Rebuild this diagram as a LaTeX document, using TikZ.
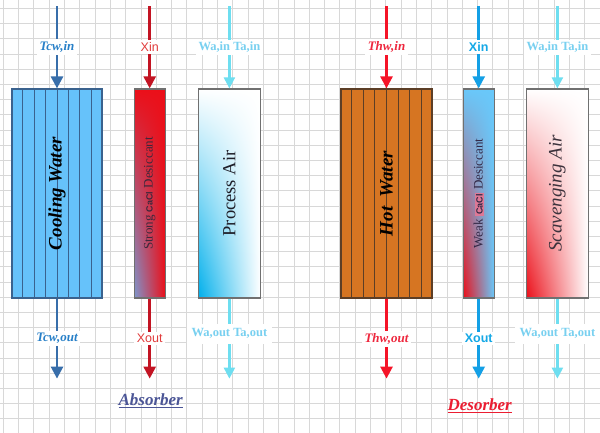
\documentclass[tikz,border=0pt]{standalone}
\usepackage{fontspec}
\setmainfont{Liberation Serif}
\setsansfont{Liberation Sans}
\usepackage{tikz}
\usetikzlibrary{arrows.meta, positioning, calc, shadings}
\usepackage{xcolor}

\definecolor{gridclr}{RGB}{216,216,216}
\definecolor{boxgray}{RGB}{112,112,112}
\definecolor{cwfill}{RGB}{102,194,250}
\definecolor{cwline}{RGB}{58,98,142}
\definecolor{hwfill}{RGB}{214,117,34}
\definecolor{hwline}{RGB}{92,62,38}
\definecolor{cwarr}{RGB}{56,110,170}
\definecolor{cwtxt}{RGB}{40,128,200}
\definecolor{strarr}{RGB}{195,20,35}
\definecolor{strtxt}{RGB}{225,60,60}
\definecolor{airarr}{RGB}{110,222,240}
\definecolor{airtxt}{RGB}{120,208,240}
\definecolor{hwarr}{RGB}{245,20,40}
\definecolor{hwtxt}{RGB}{238,40,62}
\definecolor{wkarr}{RGB}{20,160,230}
\definecolor{wktxt}{RGB}{20,168,230}
\definecolor{dessgray}{RGB}{125,150,205}
\definecolor{dessred}{RGB}{235,15,25}
\definecolor{wkblue}{RGB}{105,200,250}
\definecolor{aircyan}{RGB}{0,175,235}
\definecolor{absclr}{RGB}{75,85,150}
\definecolor{desclr}{RGB}{235,30,50}
\definecolor{cacl}{RGB}{222,120,150}

\begin{document}
\begin{tikzpicture}[
  x=1pt, y=-1pt,
  box/.style = {rectangle, draw=boxgray, line width=1.2pt, minimum height=209pt, inner sep=0pt},
  cwbox/.style = {box, draw=cwline, fill=cwfill, minimum width=90pt},
  hwbox/.style = {box, draw=hwline, fill=hwfill, minimum width=91pt},
  solbox/.style = {box, minimum width=31pt},
  airbox/.style = {box, minimum width=62pt},
  stripe/.style = {line width=1pt},
  flow/.style = {line width=2.6pt, -{Triangle[width=12pt,length=12pt]}},
  airflow/.style = {line width=2.2pt, airarr, -{Triangle[width=11pt,length=11pt]}},
  tag/.style = {fill=white, inner sep=2.5pt, font=\fontsize{12}{14}\selectfont},
  inside/.style = {rotate=90, inner sep=0pt},
  title/.style = {font=\fontsize{17}{19}\selectfont\bfseries\itshape},
  gridln/.style = {gridclr, line width=0.7pt},
]
  % background and grid
  \fill[white] (0,0) rectangle (600,433);
  \useasboundingbox (0,0) rectangle (600,433);
  \foreach \gx in {3.2,18.5,...,600} \draw[gridln] (\gx,0) -- (\gx,433);
  \foreach \gy in {8.3,23.5,...,433} \draw[gridln] (0,\gy) -- (600,\gy);

  % absorber side
  \node[cwbox] (cw) at (57,193.5) {};
  \node[solbox, right=31pt of cw, upper left=dessred, upper right=dessred,
        lower right=dessred, lower left=dessgray] (strong) {};
  \node[airbox, right=32pt of strong, upper left=white, upper right=white,
        lower right=white, lower left=aircyan] (proc) {};

  % desorber side
  \node[hwbox] (hw) at (386.5,193.5) {};
  \node[solbox, right=30pt of hw, upper left=wkblue, upper right=wkblue,
        lower right=wkblue, lower left=dessred] (weak) {};
  \node[airbox, right=31pt of weak, upper left=white, upper right=white,
        lower right=white, lower left=dessred] (scav) {};

  % tube walls
  \foreach \i in {1,...,7} {
    \draw[stripe, cwline] ($(cw.south west)!{\i/8}!(cw.south east)$) -- ($(cw.north west)!{\i/8}!(cw.north east)$);
    \draw[stripe, hwline] ($(hw.south west)!{\i/8}!(hw.south east)$) -- ($(hw.north west)!{\i/8}!(hw.north east)$);
  }

  % texts in the boxes
  \node[inside, font=\fontsize{19}{19}\selectfont\bfseries\itshape] (cwname) at (cw.center) {Cooling Water};
  \node[inside, text={rgb,255:red,60;green,40;blue,60}, font=\fontsize{13}{13}\selectfont] (strongname) at (strong.center)
    {Strong {\sffamily\bfseries\fontsize{9}{9}\selectfont CaCl} Desiccant};
  \node[inside, text={rgb,255:red,30;green,30;blue,40}, font=\fontsize{18.5}{18.5}\selectfont] (procname) at (proc.center) {Process Air};
  \node[inside, font=\fontsize{19}{19}\selectfont\bfseries\itshape] (hwname) at (hw.center) {Hot~ Water};
  \node[inside, text={rgb,255:red,50;green,40;blue,70}, font=\fontsize{13}{13}\selectfont] (weakname) at (weak.center)
    {Weak {\setlength{\fboxsep}{1pt}\colorbox{cacl}{\sffamily\bfseries\fontsize{9}{9}\selectfont CaCl}} Desiccant};
  \node[inside, text={rgb,255:red,60;green,50;blue,60}, font=\fontsize{19}{19}\selectfont\itshape] (scavname) at (scav.center) {Scavenging Air};

  % ends of the streams
  \foreach \b in {cw,strong,proc,hw,weak,scav} {
    \coordinate (\b-in) at ($(\b.north)+(0,-82)$);
    \coordinate (\b-out) at ($(\b.south)+(0,80)$);
  }

  % streams in
  \draw[flow, cwarr] (cw-in) -- node[midway, tag, text=cwtxt, font=\fontsize{13}{14}\selectfont\bfseries\itshape] {Tcw,in} (cw);
  \draw[flow, strarr] (strong-in) -- node[midway, tag, text=strtxt, font=\fontsize{12.5}{14}\selectfont\sffamily] {Xin} (strong);
  \draw[airflow] (proc-in) -- node[midway, tag, text=airtxt, font=\fontsize{12.5}{14}\selectfont\bfseries] {Wa,in Ta,in} (proc);
  \draw[flow, hwarr] (hw-in) -- node[midway, tag, text=hwtxt, font=\fontsize{13}{14}\selectfont\bfseries\itshape] {Thw,in} (hw);
  \draw[flow, wkarr] (weak-in) -- node[midway, tag, text=wktxt, font=\fontsize{12.5}{14}\selectfont\sffamily\bfseries] {Xin} (weak);
  \draw[airflow] (scav-in) -- node[midway, tag, text=airtxt, font=\fontsize{12.5}{14}\selectfont\bfseries] {Wa,in Ta,in} (scav);

  % streams out
  \draw[flow, cwarr] (cw) -- node[midway, tag, text=cwtxt, font=\fontsize{13}{14}\selectfont\bfseries\itshape] {Tcw,out} (cw-out);
  \draw[flow, strarr] (strong) -- node[midway, tag, text=strtxt, font=\fontsize{12.5}{14}\selectfont\sffamily] {Xout} (strong-out);
  \draw[airflow] (proc) -- node[pos=0.44, tag, inner sep=5pt, text=airtxt, font=\fontsize{12.5}{14}\selectfont\bfseries] {Wa,out Ta,out} (proc-out);
  \draw[flow, hwarr] (hw) -- node[midway, tag, text=hwtxt, font=\fontsize{13}{14}\selectfont\bfseries\itshape] {Thw,out} (hw-out);
  \draw[flow, wkarr] (weak) -- node[midway, tag, text=wktxt, font=\fontsize{12.5}{14}\selectfont\sffamily\bfseries] {Xout} (weak-out);
  \draw[airflow] (scav) -- node[pos=0.44, tag, inner sep=5pt, text=airtxt, font=\fontsize{12.5}{14}\selectfont\bfseries] {Wa,out Ta,out} (scav-out);

  % titles
  \node[title, absclr] (abs) at ($(strong.south)+(1,102)$) {\underline{Absorber}};
  \node[title, desclr] (des) at ($(weak.south)+(1,107)$) {\underline{Desorber}};
\end{tikzpicture}
\end{document}
